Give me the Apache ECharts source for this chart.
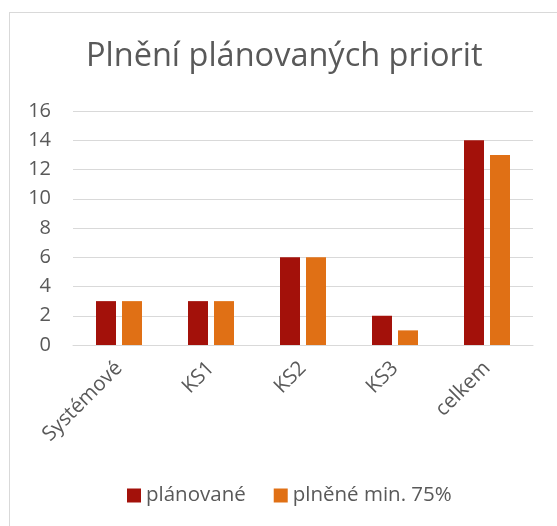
<!DOCTYPE html>
<html>
<head>
<meta charset="utf-8">
<script src="https://cdn.jsdelivr.net/npm/echarts@6/dist/echarts.min.js"></script>
<style>
  html, body { margin: 0; padding: 0; background: #fff; }
  #frame { position: absolute; left: 9px; top: 12px; width: 560px; height: 530px;
           border-left: 1px solid #d9d9d9; border-top: 1px solid #d9d9d9; }
  #chart { position: absolute; left: 0; top: 0; width: 557px; height: 526px; }
</style>
</head>
<body>
<div id="frame"></div>
<div id="chart"></div>
<script>
  var categories = ['Systémové', 'KS1', 'KS2', 'KS3', 'celkem'];
  var planovane = [3, 3, 6, 2, 14];
  var plnene = [3, 3, 6, 1, 13];

  var dom = document.querySelector('#chart');
  var myChart = echarts.init(dom);
  var textColor = '#595959';
  var font = '"Open Sans", sans-serif';

  var option = {
    title: {
      text: 'Plnění plánovaných priorit',
      left: 81,
      top: 35,
      textStyle: { color: textColor, fontSize: 32.5, fontWeight: 'normal', fontFamily: font }
    },
    legend: {
      bottom: 15,
      left: 122,
      itemWidth: 14,
      itemHeight: 14,
      itemGap: 28,
      icon: 'rect',
      textStyle: { color: textColor, fontSize: 20.5, fontFamily: font }
    },
    grid: { left: 73, right: 24, top: 111, bottom: 181 },
    xAxis: {
      type: 'category',
      data: categories,
      axisLine: { lineStyle: { color: '#d9d9d9', width: 1 } },
      axisTick: { show: false },
      axisLabel: { rotate: 45, color: textColor, fontSize: 20.5, fontFamily: font, margin: 20 }
    },
    yAxis: {
      type: 'value',
      min: 0,
      max: 16,
      interval: 2,
      axisLine: { show: false },
      axisTick: { show: false },
      splitLine: { lineStyle: { color: '#d9d9d9', width: 1 } },
      axisLabel: { color: textColor, fontSize: 20, fontFamily: font, margin: 22 }
    },
    series: [
      {
        name: 'plánované',
        type: 'bar',
        data: planovane,
        barWidth: 20,
        barGap: '30%',
        itemStyle: { color: '#A3110A' }
      },
      {
        name: 'plněné min. 75%',
        type: 'bar',
        data: plnene,
        barWidth: 20,
        itemStyle: { color: '#E07015' }
      }
    ]
  };
  myChart.setOption(option);
</script>
</body>
</html>
